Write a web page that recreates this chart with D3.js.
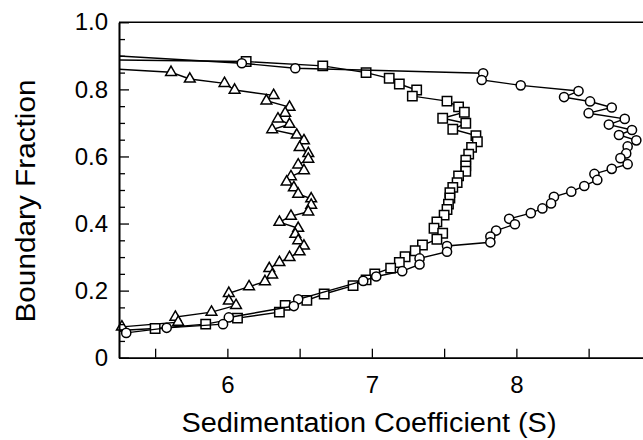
<!DOCTYPE html>
<html>
<head>
<meta charset="utf-8">
<script src="https://cdn.jsdelivr.net/npm/d3@7"></script>
<style>
  html, body { margin: 0; padding: 0; background: #fff; }
  svg { display: block; font-family: "Liberation Sans", Arial, sans-serif; }
</style>
</head>
<body>
<svg id="chart" width="643" height="440"></svg>
<script>
// sedimentation coefficient (S) and boundary fraction, ordered top to bottom
const triangleS = [5.0, 5.61, 5.74, 5.98, 6.05, 6.32, 6.27, 6.43, 6.40, 6.35, 6.43, 6.31, 6.48, 6.53, 6.50, 6.56, 6.56, 6.49, 6.53, 6.44, 6.41, 6.46, 6.49, 6.58, 6.58, 6.56, 6.44, 6.36, 6.49, 6.47, 6.49, 6.53, 6.50, 6.43, 6.36, 6.29, 6.31, 6.26, 6.15, 6.01, 6.01, 6.06, 5.89, 5.64, 5.66, 5.27, 5.0];
const triangleF = [0.866, 0.851, 0.831, 0.818, 0.798, 0.782, 0.766, 0.747, 0.729, 0.712, 0.696, 0.680, 0.664, 0.647, 0.627, 0.609, 0.592, 0.575, 0.558, 0.540, 0.524, 0.507, 0.488, 0.474, 0.455, 0.435, 0.422, 0.404, 0.386, 0.368, 0.349, 0.333, 0.316, 0.299, 0.284, 0.266, 0.247, 0.227, 0.212, 0.192, 0.169, 0.156, 0.136, 0.121, 0.106, 0.092, 0.115];

const squareS = [5.0, 6.13, 6.66, 6.96, 7.12, 7.19, 7.31, 7.28, 7.52, 7.60, 7.64, 7.49, 7.65, 7.56, 7.72, 7.73, 7.69, 7.67, 7.65, 7.65, 7.65, 7.60, 7.59, 7.56, 7.54, 7.54, 7.53, 7.52, 7.50, 7.45, 7.43, 7.49, 7.45, 7.35, 7.30, 7.23, 7.19, 7.13, 7.02, 6.96, 6.87, 6.67, 6.55, 6.40, 6.36, 6.07, 5.85, 5.50, 5.0];
const squareF = [0.889, 0.883, 0.870, 0.850, 0.833, 0.816, 0.798, 0.780, 0.765, 0.748, 0.732, 0.714, 0.699, 0.681, 0.662, 0.644, 0.627, 0.607, 0.589, 0.572, 0.556, 0.542, 0.522, 0.508, 0.492, 0.476, 0.458, 0.442, 0.425, 0.405, 0.386, 0.371, 0.353, 0.336, 0.319, 0.301, 0.284, 0.267, 0.250, 0.232, 0.215, 0.190, 0.171, 0.156, 0.136, 0.118, 0.100, 0.087, 0.075];

const circleS = [5.0, 6.10, 6.47, 7.77, 7.76, 8.03, 8.43, 8.33, 8.51, 8.66, 8.50, 8.75, 8.64, 8.80, 8.71, 8.83, 8.77, 8.76, 8.72, 8.77, 8.66, 8.54, 8.56, 8.47, 8.38, 8.26, 8.24, 8.18, 8.10, 7.95, 7.99, 7.86, 7.82, 7.82, 7.52, 7.52, 7.33, 7.33, 7.21, 7.03, 6.94, 6.49, 6.46, 6.01, 5.97, 5.58, 5.30, 5.1];
const circleF = [0.906, 0.878, 0.863, 0.848, 0.828, 0.812, 0.795, 0.777, 0.764, 0.746, 0.729, 0.712, 0.695, 0.679, 0.664, 0.648, 0.630, 0.609, 0.595, 0.577, 0.563, 0.548, 0.530, 0.512, 0.495, 0.480, 0.460, 0.445, 0.431, 0.414, 0.398, 0.379, 0.361, 0.344, 0.333, 0.316, 0.296, 0.278, 0.258, 0.242, 0.229, 0.174, 0.154, 0.120, 0.100, 0.089, 0.074, 0.100];

const xMajorTicks = [6, 7, 8];
const xMinorTicks = [5.5, 6.5, 7.5, 8.5];
const yMajorTicks = [0, 0.2, 0.4, 0.6, 0.8, 1.0];
const yTickLabels = ['0', '0.2', '0.4', '0.6', '0.8', '1.0'];
const yMinorTicks = [0.05, 0.1, 0.15, 0.25, 0.3, 0.35, 0.45, 0.5, 0.55, 0.65, 0.7, 0.75, 0.85, 0.9, 0.95];

const svg = d3.select('#chart');
svg.append('rect').attr('width', 643).attr('height', 440).attr('fill', '#fff');

// plot box: left 119, top 22, bottom 358; right side runs off the picture
const x = d3.scaleLinear().domain([5.25, 9]).range([119, 119 + 3.75 * 144.5]);
const y = d3.scaleLinear().domain([0, 1]).range([357.7, 22.3]);

svg.append('clipPath').attr('id', 'plotClip')
    .append('rect')
    .attr('x', x(5.25)).attr('y', y(1))
    .attr('width', x(9) - x(5.25)).attr('height', y(0) - y(1));

const series = [
    { S: triangleS, F: triangleF, symbol: d3.symbolTriangle, size: 50 },
    { S: squareS, F: squareF, symbol: d3.symbolSquare, size: 88 },
    { S: circleS, F: circleF, symbol: d3.symbolCircle, size: 66 }
];

const line = d3.line().x(d => x(d.s)).y(d => y(d.f));
const plot = svg.append('g');

series.forEach(sr => {
    const pts = sr.S.map((s, i) => ({ s, f: sr.F[i] }));
    plot.append('path')
        .datum(pts)
        .attr('clip-path', 'url(#plotClip)')
        .attr('fill', 'none')
        .attr('stroke', '#000')
        .attr('stroke-width', 1.4)
        .attr('d', line);

    plot.selectAll(null)
        .data(pts.filter(d => d.s >= 5.25))
        .enter().append('path')
        .attr('transform', d => `translate(${x(d.s)},${y(d.f)})`)
        .attr('d', d3.symbol().type(sr.symbol).size(sr.size))
        .attr('fill', '#fff')
        .attr('stroke', '#000')
        .attr('stroke-width', 1.5);
});

// axes (ticks point inward)
const axisStyle = sel => {
    sel.selectAll('path.domain').attr('stroke', '#000').attr('stroke-width', 1.6);
    sel.selectAll('.tick line').attr('stroke', '#000').attr('stroke-width', 1.3);
    sel.selectAll('.tick text')
        .attr('fill', '#000')
        .style('font-size', '24px')
        .style('font-family', '"Liberation Sans", Arial, sans-serif');
};

svg.append('g')
    .attr('transform', `translate(0,${y(0)})`)
    .call(d3.axisBottom(x).tickValues(xMajorTicks).tickFormat(d3.format('d'))
        .tickSizeInner(-9).tickSizeOuter(0).tickPadding(18))
    .call(axisStyle);

svg.append('g')
    .attr('transform', `translate(0,${y(0)})`)
    .call(d3.axisBottom(x).tickValues(xMinorTicks).tickFormat('')
        .tickSizeInner(-9).tickSizeOuter(0))
    .call(axisStyle);

svg.append('g')
    .attr('transform', `translate(${x(5.25)},0)`)
    .call(d3.axisLeft(y).tickValues(yMajorTicks).tickFormat((d, i) => yTickLabels[i])
        .tickSizeInner(-10).tickSizeOuter(0).tickPadding(11))
    .call(axisStyle);

svg.append('g')
    .attr('transform', `translate(${x(5.25)},0)`)
    .call(d3.axisLeft(y).tickValues(yMinorTicks).tickFormat('')
        .tickSizeInner(-6).tickSizeOuter(0))
    .call(axisStyle);

// top border
svg.append('line')
    .attr('x1', x(5.25)).attr('x2', x(9))
    .attr('y1', y(1)).attr('y2', y(1))
    .attr('stroke', '#000').attr('stroke-width', 1.6);

// axis titles
svg.append('text')
    .attr('x', 369).attr('y', 432)
    .attr('text-anchor', 'middle')
    .attr('font-size', '27px')
    .attr('textLength', 375).attr('lengthAdjust', 'spacingAndGlyphs')
    .attr('fill', '#000')
    .text('Sedimentation Coefficient (S)');

svg.append('text')
    .attr('transform', 'translate(35,201) rotate(-90)')
    .attr('text-anchor', 'middle')
    .attr('font-size', '27px')
    .attr('textLength', 243).attr('lengthAdjust', 'spacingAndGlyphs')
    .attr('fill', '#000')
    .text('Boundary Fraction');
</script>
</body>
</html>
